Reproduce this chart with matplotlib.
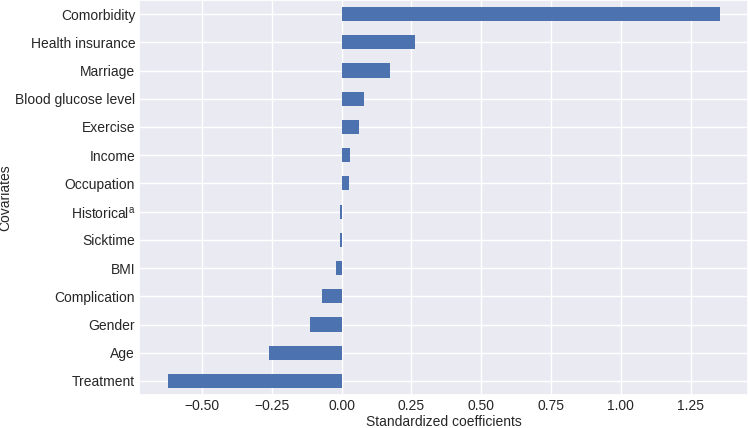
import matplotlib
matplotlib.use("Agg")
import matplotlib.pyplot as plt
import seaborn as sns

# covariates from bottom to top
covariates = ["Treatment", "Age", "Gender", "Complication", "BMI", "Sicktime",
              "Historical$^{\\mathregular{a}}$", "Occupation", "Income", "Exercise",
              "Blood glucose level", "Marriage", "Health insurance", "Comorbidity"]
coefs = [-0.623, -0.259, -0.113, -0.071, -0.020, -0.006,
         -0.005, 0.025, 0.032, 0.063, 0.081, 0.174, 0.263, 1.355]

sns.set_theme(style="darkgrid")
plt.rcParams['font.family'] = ['Liberation Sans', 'DejaVu Sans']

fig, ax = plt.subplots(figsize=(7.49, 4.28), dpi=100)
fig.subplots_adjust(left=0.186, right=0.999, top=1.0, bottom=0.077)

ax.barh(range(len(covariates)), coefs, height=0.5, color="#4C72B0", linewidth=0)
ax.set_yticks(range(len(covariates)))
ax.set_yticklabels(covariates)
ax.set_ylim(-0.5, len(covariates) - 0.5)
ax.set_xlim(-0.724, 1.456)
ax.set_xticks([-0.5, -0.25, 0.0, 0.25, 0.5, 0.75, 1.0, 1.25])
ax.set_xticklabels(["\u22120.50", "\u22120.25", "0.00", "0.25", "0.50", "0.75", "1.00", "1.25"])
ax.tick_params(labelsize=10, length=0, pad=3)
ax.set_xlabel("Standardized coefficients", fontsize=10, labelpad=1)
ax.set_ylabel("Covariates", fontsize=10)
ax.yaxis.set_label_coords(-0.208, 0.5)

fig.savefig("out.png", dpi=100)
